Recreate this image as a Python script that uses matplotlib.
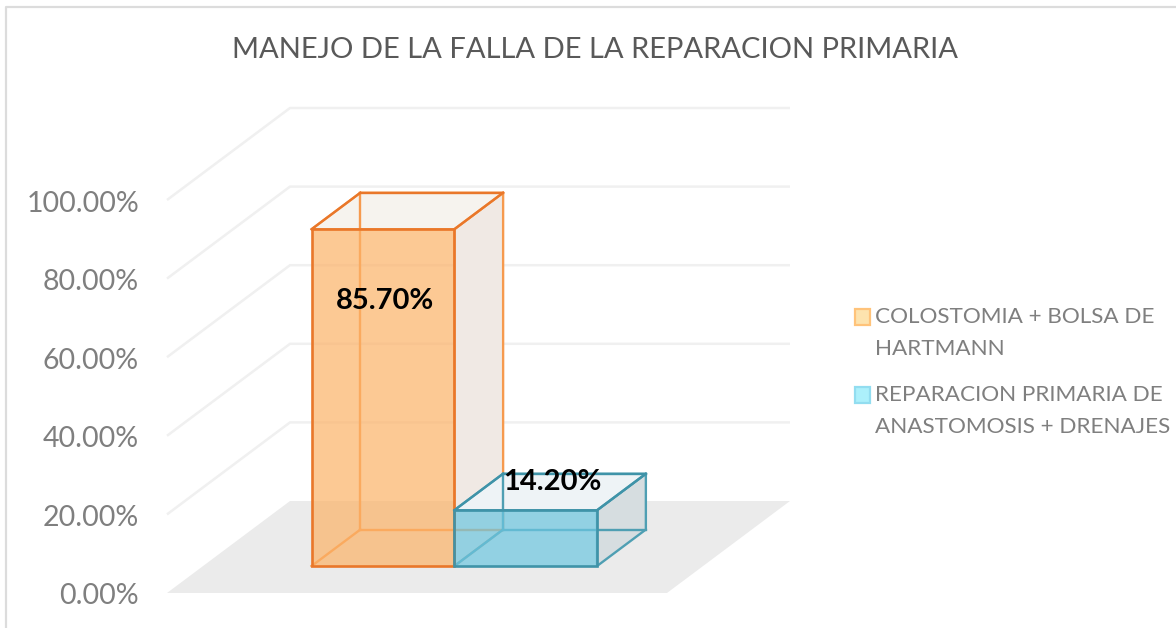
import matplotlib
matplotlib.use('Agg')
import matplotlib.pyplot as plt
from matplotlib.patches import Polygon, Rectangle

plt.rcParams['font.family'] = ['Lato', 'DejaVu Sans']

title = 'MANEJO DE LA FALLA DE LA REPARACION PRIMARIA'
categories = ['COLOSTOMIA + BOLSA DE\nHARTMANN', 'REPARACION PRIMARIA DE\nANASTOMOSIS + DRENAJES']
values = [85.7, 14.2]
ticks = [0, 20, 40, 60, 80, 100]

# oblique projection, everything in image pixels
x0, y0 = 167, 593      # front left corner of the floor
floor_w = 500
dx, dy = 123, -92      # shift from front to back of the floor
px_per_pct = 3.93
bar_l = 0.217          # first bar start, fraction of floor width
bar_w = 0.2855
d0, d1 = 0.293, 0.69   # depth of the bars

def proj(x, v, d):
    return (x0 + x * floor_w + d * dx, y0 - v * px_per_pct + d * dy)

def face(ax, pts, fc, ec, alpha=1.0, lw=1.7, z=2):
    ax.add_patch(Polygon(pts, closed=True, fc=fc, ec='none', alpha=alpha, zorder=z))
    if ec is not None:
        ax.add_patch(Polygon(pts, closed=True, fc='none', ec=ec, lw=lw, joinstyle='round', zorder=z))

fig = plt.figure(figsize=(11.76, 6.28), dpi=100)
ax = fig.add_axes([0, 0, 1, 1])
ax.set_xlim(0, 1176)
ax.set_ylim(628, 0)
ax.axis('off')

# outer border
ax.plot([5.5, 5.5, 1176], [628, 6.5, 6.5], color='#dcdcdc', lw=1.6, zorder=1)

# floor and grid
face(ax, [proj(0, 0, 0), proj(1, 0, 0), proj(1, 0, 1), proj(0, 0, 1)], '#ebebeb', None, z=1)
for t in ticks[1:]:
    xs, ys = zip(proj(0, t, 0), proj(0, t, 1), proj(1, t, 1))
    ax.plot(xs, ys, color='#f0f0f0', lw=1.8, zorder=1, solid_capstyle='butt')
for t in ticks:
    px, py = proj(0, t, 0)
    ax.text(px - 28, py + 3.5, '%.2f%%' % t, ha='right', va='center', fontsize=20.5, color='#7f7f7f')

styles = [
    dict(edge='#e9772a', back='#f69a4e', front='#fcb267', top='#f6f3ee', side='#f0e9e4'),
    dict(edge='#3f93a8', back='#4f9fb3', front='#6cc6e0', top='#eef3f6', side='#d6dde0'),
]

for i, v in enumerate(values):
    s = styles[i]
    a = bar_l + i * bar_w
    b = a + bar_w
    # back, floor side lines first so they show through the front
    face(ax, [proj(b, v, d0), proj(b, v, d1), proj(b, 0, d1), proj(b, 0, d0)], s['side'], s['back'], z=2 + i)
    face(ax, [proj(a, v, d0), proj(b, v, d0), proj(b, v, d1), proj(a, v, d1)], s['top'], s['back'], z=2 + i)
    for p, q in [(proj(a, 0, d1), proj(a, v, d1)), (proj(a, 0, d1), proj(b, 0, d1)), (proj(a, 0, d0), proj(a, 0, d1))]:
        ax.plot([p[0], q[0]], [p[1], q[1]], color=s['back'], lw=1.7, zorder=2 + i)
    face(ax, [proj(a, 0, d0), proj(b, 0, d0), proj(b, v, d0), proj(a, v, d0)], s['front'], None, alpha=0.7, z=4 + i)
    for p, q in [(proj(a, v, d0), proj(a, v, d1)), (proj(b, v, d0), proj(b, v, d1)), (proj(a, v, d1), proj(b, v, d1))]:
        ax.plot([p[0], q[0]], [p[1], q[1]], color=s['edge'], lw=1.7, zorder=6)
    ax.add_patch(Polygon([proj(a, 0, d0), proj(b, 0, d0), proj(b, v, d0), proj(a, v, d0)], closed=True, fc='none', ec=s['edge'], lw=1.9, zorder=6))

# data labels
ax.text(385, 301, '%.2f%%' % values[0], ha='center', va='center', fontsize=21, fontweight='bold', color='black', zorder=8)
ax.text(552, 482, '%.2f%%' % values[1], ha='center', va='center', fontsize=21, fontweight='bold', color='black', zorder=8)

ax.text(595, 50, title, ha='center', va='center', fontsize=21, color='#595959')

# legend
swatches = [('#fde3ae', '#ffc37a', 309), ('#acf0fb', '#92ddf0', 387)]
for (fc, ec, y), name in zip(swatches, categories):
    ax.add_patch(Rectangle((854.5, y), 15.5, 16, fc=fc, ec=ec, lw=1.6, zorder=3))
    ax.text(875, y - 2, name, ha='left', va='top', fontsize=16.2, color='#7f7f7f', linespacing=1.75)

fig.savefig('out.png', dpi=100)
